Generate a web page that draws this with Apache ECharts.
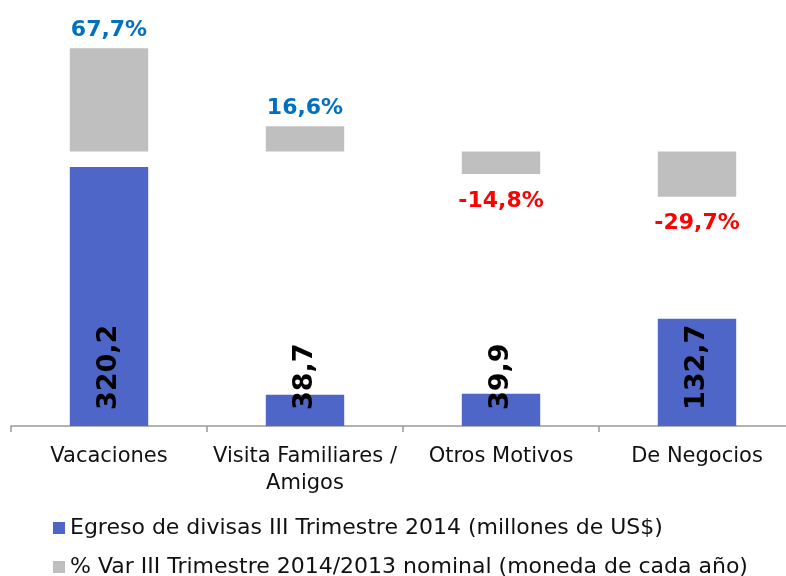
<!DOCTYPE html>
<html>
<head>
<meta charset="utf-8">
<script src="https://cdn.jsdelivr.net/npm/echarts@6/dist/echarts.min.js"></script>
<style>html,body{margin:0;padding:0;background:#fff}#c{width:786px;height:576px}</style>
</head>
<body>
<div id="c"></div>
<script>
const categories = ['Vacaciones', 'Visita Familiares /\nAmigos', 'Otros Motivos', 'De Negocios'];
const egreso = [320.2, 38.7, 39.9, 132.7];
const variacion = [67.7, 16.6, -14.8, -29.7];
const seriesNames = ['Egreso de divisas III Trimestre 2014 (millones de US$)', '% Var III Trimestre 2014/2013 nominal (moneda de cada año)'];

const FONT = 'DejaVu Sans';
const fmt = v => v.toFixed(1).replace('.', ',');

const legendBase = {
  left: 53, itemWidth: 12, itemHeight: 12, icon: 'rect', padding: 0,
  textStyle: { fontFamily: FONT, fontSize: 22, color: '#111' }
};

const chart = echarts.init(document.getElementById('c'));
chart.setOption({
  animation: false,
  backgroundColor: '#fff',
  grid: { left: 11, width: 784, top: 30, bottom: 150, containLabel: false, outerBoundsMode: 'none' },
  legend: [
    Object.assign({}, legendBase, { top: 517, data: [seriesNames[0]] }),
    Object.assign({}, legendBase, { top: 556, data: [seriesNames[1]] })
  ],
  xAxis: {
    type: 'category', data: categories,
    axisLine: { lineStyle: { color: '#999', width: 1.5 } },
    axisTick: { show: true, length: 6, lineStyle: { color: '#999', width: 1.5 } },
    axisLabel: { interval: 0, fontFamily: FONT, fontSize: 21, color: '#111', margin: 17, lineHeight: 27 }
  },
  yAxis: [
    { type: 'value', min: 0, max: 489.5, show: false, splitLine: { show: false } },
    { type: 'value', min: -180.1, max: 79.7, show: false, splitLine: { show: false } }
  ],
  series: [
    {
      name: seriesNames[0], type: 'bar', yAxisIndex: 0, barWidth: '40%', barGap: '-100%',
      itemStyle: { color: '#4F66C9' },
      label: {
        show: true, position: 'insideBottom', rotate: 90, align: 'left', verticalAlign: 'middle',
        distance: 16, fontFamily: FONT, fontSize: 27, fontWeight: 'bold', color: '#000',
        formatter: p => fmt(p.value)
      },
      data: egreso
    },
    {
      name: seriesNames[1], type: 'bar', yAxisIndex: 1, barWidth: '40%', barGap: '-100%',
      itemStyle: { color: '#BFBFBF' },
      data: variacion.map(v => ({
        value: v,
        label: {
          show: true, position: v >= 0 ? 'top' : 'bottom', distance: v >= 0 ? 7 : 16,
          fontFamily: FONT, fontSize: 22, fontWeight: 'bold',
          color: v >= 0 ? '#0070C0' : '#FF0000',
          formatter: p => fmt(p.value) + '%'
        }
      }))
    }
  ]
});
</script>
</body>
</html>
